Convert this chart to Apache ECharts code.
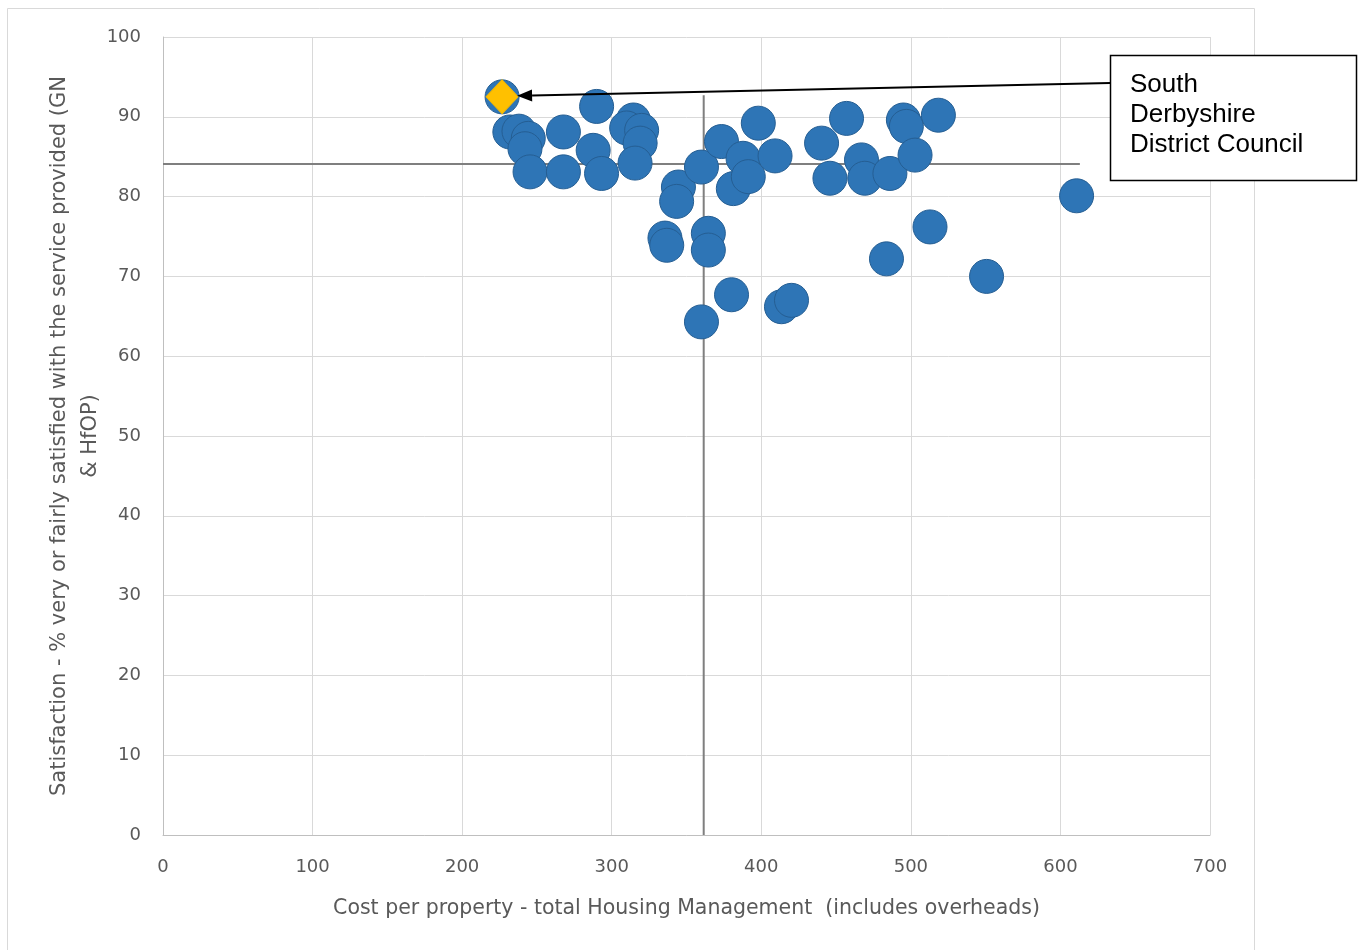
<!DOCTYPE html>
<html>
<head>
<meta charset="utf-8">
<script src="https://cdn.jsdelivr.net/npm/echarts@6/dist/echarts.min.js"></script>
<style>
html,body{margin:0;padding:0;background:#fff;}
#chart{width:1362px;height:950px;}
</style>
</head>
<body>
<div id="chart"></div>
<script>
// Cost per property (x) and satisfaction % (y) for comparator landlords
const costPerProperty = [231.9, 238, 244.2, 242, 245.4, 267.7, 267.7, 289.9, 287.6, 293.2,
  314.5, 310, 320, 319, 315.6, 344.6, 343.4, 335.6, 336.8, 364.6, 364.6, 360, 373.4, 398,
  387.8, 381.3, 391.3, 409.2, 380.1, 360, 413.5, 420.2, 440.3, 457, 445.9, 467, 469.2,
  486, 495, 497, 502.8, 518.4, 512.8, 483.7, 550.6, 610.8, 226.7];
const satisfaction = [88.1, 88.2, 87.3, 86.0, 83.1, 88.1, 83.1, 91.3, 85.8, 82.9,
  89.6, 88.6, 88.3, 86.7, 84.2, 81.2, 79.4, 74.8, 73.9, 75.4, 73.3, 83.7, 86.9, 89.2,
  84.8, 81.0, 82.5, 85.1, 67.7, 64.3, 66.2, 67.0, 86.7, 89.8, 82.3, 84.6, 82.3,
  82.9, 89.6, 88.8, 85.2, 90.2, 76.2, 72.2, 70.0, 80.1, 92.5];
// Highlighted council
const highlightName = 'South Derbyshire District Council';
const highlightCost = [226.7];
const highlightSat = [92.5];
// Average reference lines (extend to max of data)
const avgCost = 361.5;
const avgSat = 84.1;
const maxCost = 613;
const maxSat = 92.7;
// Axis ticks
const xTicks = [0, 100, 200, 300, 400, 500, 600, 700];
const yTicks = [0, 10, 20, 30, 40, 50, 60, 70, 80, 90, 100];

const chart = echarts.init(document.getElementById('chart'));
const font = '"DejaVu Sans", sans-serif';
const grey = '#595959';

const option = {
  backgroundColor: '#fff',
  animation: false,
  grid: {left: 163, top: 37, right: 152, bottom: 115},
  xAxis: {
    type: 'value', min: xTicks[0], max: xTicks[xTicks.length - 1], interval: 100,
    name: 'Cost per property - total Housing Management  (includes overheads)',
    nameLocation: 'middle', nameGap: 63, nameMoveOverlap: false,
    nameTextStyle: {color: grey, fontFamily: font, fontSize: 20.5},
    axisLine: {show: true, lineStyle: {color: '#bfbfbf', width: 1}},
    axisTick: {show: false},
    axisLabel: {color: grey, fontFamily: font, fontSize: 18, margin: 23},
    splitLine: {show: true, lineStyle: {color: '#d9d9d9', width: 1}}
  },
  yAxis: {
    type: 'value', min: yTicks[0], max: yTicks[yTicks.length - 1], interval: 10,
    name: 'Satisfaction - % very or fairly satisfied with the service provided (GN\n& HfOP)',
    nameLocation: 'middle', nameGap: 57, nameRotate: 90, nameMoveOverlap: false,
    nameTextStyle: {color: grey, fontFamily: font, fontSize: 21, lineHeight: 31, align: 'center'},
    axisLine: {show: true, lineStyle: {color: '#bfbfbf', width: 1}},
    axisTick: {show: false},
    axisLabel: {color: grey, fontFamily: font, fontSize: 18, margin: 22},
    splitLine: {show: true, lineStyle: {color: '#d9d9d9', width: 1}}
  },
  series: [
    {
      name: 'Average cost', type: 'line', silent: true, symbol: 'none',
      data: [[avgCost, 0], [avgCost, maxSat]],
      lineStyle: {color: '#7f7f7f', width: 2}, z: 1
    },
    {
      name: 'Average satisfaction', type: 'line', silent: true, symbol: 'none',
      data: [[0, avgSat], [maxCost, avgSat]],
      lineStyle: {color: '#7f7f7f', width: 2}, z: 1
    },
    {
      name: 'Landlords', type: 'scatter', symbol: 'circle', symbolSize: 34,
      data: costPerProperty.map((c, i) => [c, satisfaction[i]]),
      itemStyle: {color: '#2e75b6', borderColor: '#255e93', borderWidth: 1, opacity: 1},
      z: 2
    },
    {
      name: highlightName, type: 'scatter', symbol: 'diamond', symbolSize: [32, 34],
      data: highlightCost.map((c, i) => [c, highlightSat[i]]),
      itemStyle: {color: '#ffc000', borderColor: '#f5b800', borderWidth: 1, opacity: 1},
      z: 3
    }
  ]
};
chart.setOption(option);

// Annotation box and arrow pointing at the highlighted council
const tip = chart.convertToPixel({seriesIndex: 3}, [highlightCost[0], highlightSat[0]]);
const boxX = 1110, boxY = 55, boxW = 246, boxH = 125;
const startX = boxX, startY = 83;
const endX = tip[0] + 15, endY = tip[1] - 1;
const ang = Math.atan2(endY - startY, endX - startX);
const hl = 15, hw = 6;
const baseX = endX - hl * Math.cos(ang), baseY = endY - hl * Math.sin(ang);
const px = -Math.sin(ang) * hw, py = Math.cos(ang) * hw;

chart.setOption({
  graphic: [
    {type: 'rect', silent: true, z: -10,
      shape: {x: 7.5, y: 8.5, width: 1247, height: 960},
      style: {fill: 'none', stroke: '#d9d9d9', lineWidth: 1}},
    {type: 'line', silent: true, z: 100,
      shape: {x1: startX, y1: startY, x2: baseX, y2: baseY},
      style: {stroke: '#000', lineWidth: 2}},
    {type: 'polygon', silent: true, z: 100,
      shape: {points: [[endX, endY], [baseX + px, baseY + py], [baseX - px, baseY - py]]},
      style: {fill: '#000'}},
    {type: 'rect', silent: true, z: 100,
      shape: {x: boxX + 0.5, y: boxY + 0.5, width: boxW, height: boxH},
      style: {fill: '#fff', stroke: '#000', lineWidth: 1.5}},
    {type: 'text', silent: true, z: 101, x: 1130, y: 70,
      style: {text: 'South\nDerbyshire\nDistrict Council', fill: '#000',
        font: '26px "Liberation Sans", Arial, sans-serif', lineHeight: 30}}
  ]
});
</script>
</body>
</html>
